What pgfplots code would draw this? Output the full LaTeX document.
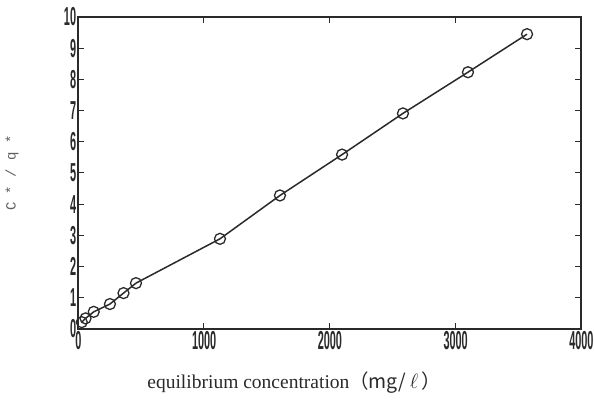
\documentclass[border=0pt]{standalone}
\usepackage{fontspec}
\setmainfont{Liberation Serif}
\newfontfamily\tickfont{Liberation Sans}
\newfontfamily\monofont{Liberation Mono}
\newfontfamily\cjk{Noto Sans CJK JP}
\usepackage{pgfplots}
\pgfplotsset{compat=1.18}

\definecolor{ink}{HTML}{2A2A2A}

\begin{document}
\begin{tikzpicture}
\begin{axis}[
  width=503pt, height=312pt,
  scale only axis,
  xmin=0, xmax=4000,
  ymin=0, ymax=10,
  xtick={0,1000,2000,3000,4000},
  ytick={0,1,...,10},
  tick pos=both,
  tick align=inside,
  xticklabel pos=left,
  yticklabel pos=left,
  major tick length=6pt,
  axis line style={ink, line width=1.3pt},
  tick style={ink, line width=1pt},
  /pgf/number format/assume math mode=true,
  /pgf/number format/1000 sep={},
  tick label style={font=\tickfont\bfseries\fontsize{26}{26}\selectfont, xscale=0.42, text=ink},
  xticklabel style={yshift=1pt, xshift=1pt},
  yticklabel style={xshift=-1pt},
  xlabel={equilibrium concentration\cjk{（}mg/\,$\ell$\,\cjk{）}},
  xlabel style={font=\fontsize{19.5}{22}\selectfont, text=ink, at={(axis description cs:0.43,-0.173)}, anchor=center},
  ylabel={C * / q *},
  ylabel style={font=\monofont\fontsize{14}{16}\selectfont, text=ink!75, at={(axis description cs:-0.131,0.5)}, anchor=center},
  clip=false,
]
\addplot[
  color=ink,
  line width=1.5pt,
  mark=o,
  mark size=5.5pt,
  mark options={fill=white, line width=1.3pt, solid},
] coordinates {
(30,0.22) (60,0.34) (125,0.55) (254,0.80) (362,1.15) (461,1.47)
(1129,2.89) (1606,4.28) (2100,5.59) (2584,6.91) (3101,8.23) (3571,9.45)
};
\end{axis}
\pgfresetboundingbox
\path[use as bounding box] ([shift={(-78pt,-72pt)}]current axis.south west) rectangle ([shift={(13pt,17pt)}]current axis.north east);
\end{tikzpicture}
\end{document}
